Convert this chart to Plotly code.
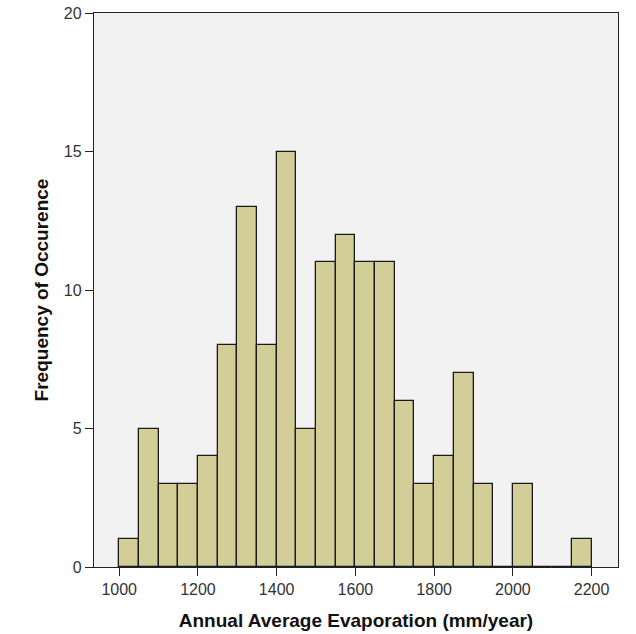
import plotly.graph_objects as go

bin_starts = [1000, 1050, 1100, 1150, 1200, 1250, 1300, 1350, 1400, 1450, 1500,
              1550, 1600, 1650, 1700, 1750, 1800, 1850, 1900, 1950, 2000, 2050,
              2100, 2150]
counts = [1, 5, 3, 3, 4, 8, 13, 8, 15, 5, 11, 12, 11, 11, 6, 3, 4, 7, 3, 0, 3, 0, 0, 1]
bin_width = 50
x_ticks = [1000, 1200, 1400, 1600, 1800, 2000, 2200]
y_ticks = [0, 5, 10, 15, 20]

centers = [s + bin_width / 2 for s in bin_starts]

fig = go.Figure(go.Bar(
    x=centers, y=counts, width=[bin_width] * len(counts),
    marker=dict(color="#D3CE98", line=dict(color="#1a1a1a", width=1.3)),
    hoverinfo="x+y",
))

font = "Liberation Sans, Arial, sans-serif"
fig.update_layout(
    width=636, height=634,
    margin=dict(l=94, r=18, t=13, b=67),
    paper_bgcolor="white", plot_bgcolor="#F2F2F2",
    showlegend=False,
    font=dict(family=font, color="#222222", size=16),
    bargap=0,
)
fig.update_xaxes(
    range=[936, 2267], tickvals=x_ticks, ticktext=[str(v) for v in x_ticks],
    ticks="outside", ticklen=8, tickcolor="#222", tickwidth=1.3,
    showline=True, linecolor="#222", linewidth=1.3, mirror=True,
    showgrid=False, zeroline=False, automargin=False,
    tickfont=dict(size=16, color="#333"),
    title=dict(text="<b>Annual Average Evaporation (mm/year)</b>",
               font=dict(size=19, color="#111"), standoff=16),
)
fig.update_yaxes(
    range=[0, 20], tickvals=y_ticks, ticktext=[str(v) for v in y_ticks],
    ticks="outside", ticklen=8, tickcolor="#222", tickwidth=1.3,
    showline=True, linecolor="#222", linewidth=1.3, mirror=True,
    showgrid=False, zeroline=False, automargin=False,
    tickfont=dict(size=16, color="#333"),
    title=dict(text="<b>Frequency of Occurence</b>",
               font=dict(size=19, color="#111"), standoff=10),
)
fig.write_html("out.html", config={"displayModeBar": False},
               post_script="document.body.style.margin='0';")
